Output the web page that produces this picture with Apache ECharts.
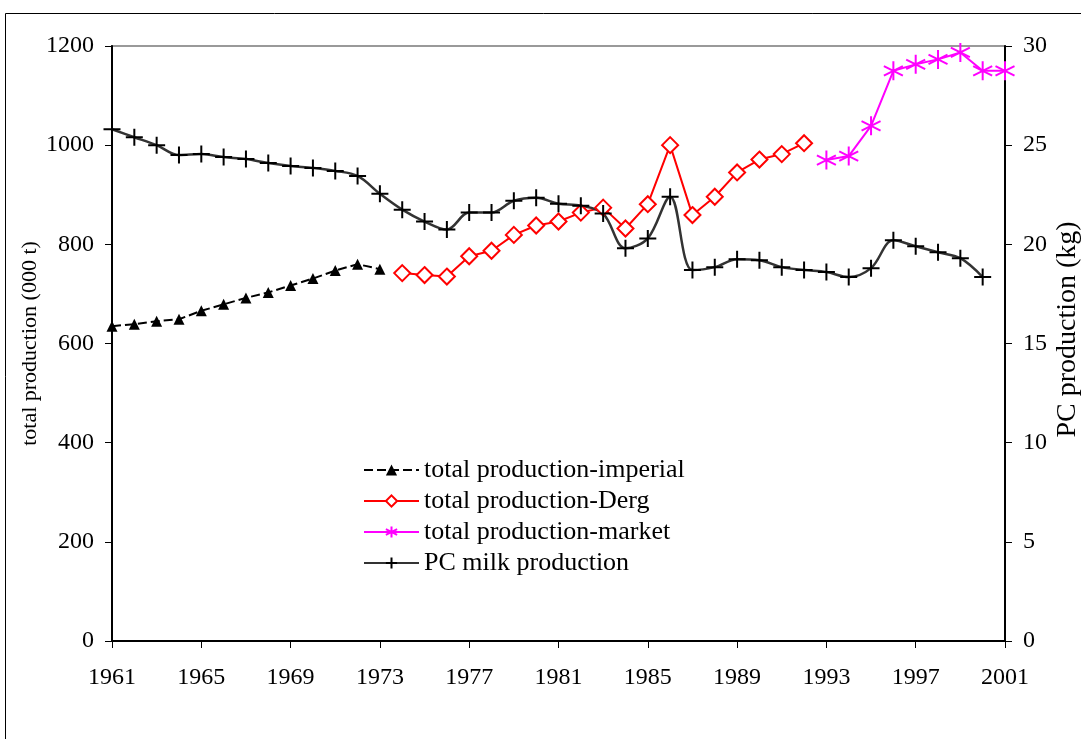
<!DOCTYPE html>
<html>
<head>
<meta charset="utf-8">
<script src="https://cdn.jsdelivr.net/npm/echarts@6/dist/echarts.min.js"></script>
<style>html,body{margin:0;padding:0;background:#fff;}#c{width:1081px;height:739px;}</style>
</head>
<body>
<div id="c"></div>
<script>
// Data
var imperialYears = [1961,1962,1963,1964,1965,1966,1967,1968,1969,1970,1971,1972,1973];
var imperialValues = [635,639,645,649,666,679,692,703,717,731,747,760,750];
var dergYears = [1974,1975,1976,1977,1978,1979,1980,1981,1982,1983,1984,1985,1986,1987,1988,1989,1990,1991,1992];
var dergValues = [742,738,735,776,787,819,838,846,864,874,832,881,1000,859,896,945,971,982,1004];
var marketYears = [1993,1994,1995,1996,1997,1998,1999,2000,2001];
var marketValues = [970,978,1039,1150,1163,1173,1187,1150,1150];
var pcYears = [1961,1962,1963,1964,1965,1966,1967,1968,1969,1970,1971,1972,1973,1974,1975,1976,1977,1978,1979,1980,1981,1982,1983,1984,1985,1986,1987,1988,1989,1990,1991,1992,1993,1994,1995,1996,1997,1998,1999,2000];
var pcValues = [25.8,25.4,25.0,24.5,24.55,24.4,24.3,24.1,23.95,23.85,23.7,23.45,22.55,21.75,21.15,20.75,21.6,21.6,22.2,22.35,22.05,21.95,21.55,19.8,20.3,22.4,18.7,18.85,19.25,19.2,18.85,18.7,18.6,18.35,18.8,20.2,19.9,19.6,19.3,18.35];
var xTickLabels = [1961,1965,1969,1973,1977,1981,1985,1989,1993,1997,2001];
var seriesNames = ['total production-imperial','total production-Derg','total production-market','PC milk production'];

function pairs(xs, ys){ return xs.map(function(x,i){ return [x, ys[i]]; }); }

var FONT = '"Liberation Serif", "Times New Roman", serif';
var asteriskPath = 'path://M10 0 L10 20 M1.3 5 L18.7 15 M1.3 15 L18.7 5';
var plusPath = 'path://M10 0 L10 20 M0 10 L20 10';

var chart = echarts.init(document.getElementById('c'), null, {renderer:'canvas'});
chart.setOption({
  animation: false,
  backgroundColor: '#fff',
  textStyle: {fontFamily: FONT, color: '#000'},
  graphic: [{
    type: 'rect', silent: true, z: -1,
    shape: {x: 5.5, y: 13.5, width: 1200, height: 1000},
    style: {fill: 'none', stroke: '#000', lineWidth: 1}
  }],
  grid: {left: 112, right: 76, top: 46, bottom: 98, outerBoundsMode: 'none', containLabel: false,
         show: true, borderColor: '#999', borderWidth: 2, backgroundColor: 'transparent'},
  legend: {
    left: 363, top: 457, orient: 'vertical', padding: 0,
    itemWidth: 55, itemHeight: 14, itemGap: 5,
    textStyle: {fontFamily: FONT, fontSize: 26, lineHeight: 26, color: '#000'},
    data: seriesNames
  },
  xAxis: {
    type: 'value', min: 1961, max: 2001,
    axisLine: {show: true, onZero: false, lineStyle: {color: '#000', width: 2}},
    axisTick: {show: true, inside: false, length: 7, lineStyle: {color: '#000', width: 1}, customValues: xTickLabels},
    axisLabel: {fontFamily: FONT, fontSize: 24, color: '#000', margin: 25, customValues: xTickLabels, formatter: function(v){return String(v);}},
    splitLine: {show: false}
  },
  yAxis: [{
    type: 'value', min: 0, max: 1200, interval: 200, position: 'left',
    name: 'total production (000 t)', nameLocation: 'middle', nameGap: 71, nameRotate: 90, nameMoveOverlap: false,
    nameTextStyle: {fontFamily: FONT, fontSize: 22, color: '#000'},
    axisLine: {show: true, lineStyle: {color: '#000', width: 2}},
    axisTick: {show: true, inside: false, length: 7, lineStyle: {color: '#000'}},
    axisLabel: {fontFamily: FONT, fontSize: 24, color: '#000', margin: 18, formatter: function(v){return String(v);}},
    splitLine: {show: false}
  }, {
    type: 'value', min: 0, max: 30, interval: 5, position: 'right',
    name: 'PC production (kg)', nameLocation: 'middle', nameGap: 49, nameRotate: 90, nameMoveOverlap: false,
    nameTextStyle: {fontFamily: FONT, fontSize: 28, color: '#000', padding: [0, 0, 0, 28]},
    axisLine: {show: true, lineStyle: {color: '#000', width: 2}},
    axisTick: {show: true, inside: false, length: 7, lineStyle: {color: '#000'}},
    axisLabel: {fontFamily: FONT, fontSize: 24, color: '#000', margin: 18, formatter: function(v){return String(v);}},
    splitLine: {show: false}
  }],
  series: [{
    name: seriesNames[0], type: 'line', yAxisIndex: 0,
    data: pairs(imperialYears, imperialValues),
    symbol: 'triangle', symbolSize: 11, showAllSymbol: true,
    lineStyle: {color: '#000', width: 2, type: [9, 4]},
    itemStyle: {color: '#000', borderWidth: 0}
  }, {
    name: seriesNames[1], type: 'line', yAxisIndex: 0,
    data: pairs(dergYears, dergValues),
    symbol: 'diamond', symbolSize: 16, showAllSymbol: true,
    lineStyle: {color: '#f00', width: 2},
    itemStyle: {color: '#fff', borderColor: '#f00', borderWidth: 2}
  }, {
    name: seriesNames[2], type: 'line', yAxisIndex: 0,
    data: pairs(marketYears, marketValues),
    symbol: asteriskPath, symbolSize: 19, showAllSymbol: true,
    lineStyle: {color: '#f0f', width: 2},
    itemStyle: {color: '#f0f', borderColor: '#f0f', borderWidth: 2}
  }, {
    name: seriesNames[3], type: 'line', yAxisIndex: 1,
    data: pairs(pcYears, pcValues),
    smooth: 0.35,
    symbol: plusPath, symbolSize: 17, showAllSymbol: true,
    lineStyle: {color: '#333', width: 2.5},
    itemStyle: {color: '#000', borderColor: '#000', borderWidth: 2}
  }]
});
</script>
</body>
</html>
